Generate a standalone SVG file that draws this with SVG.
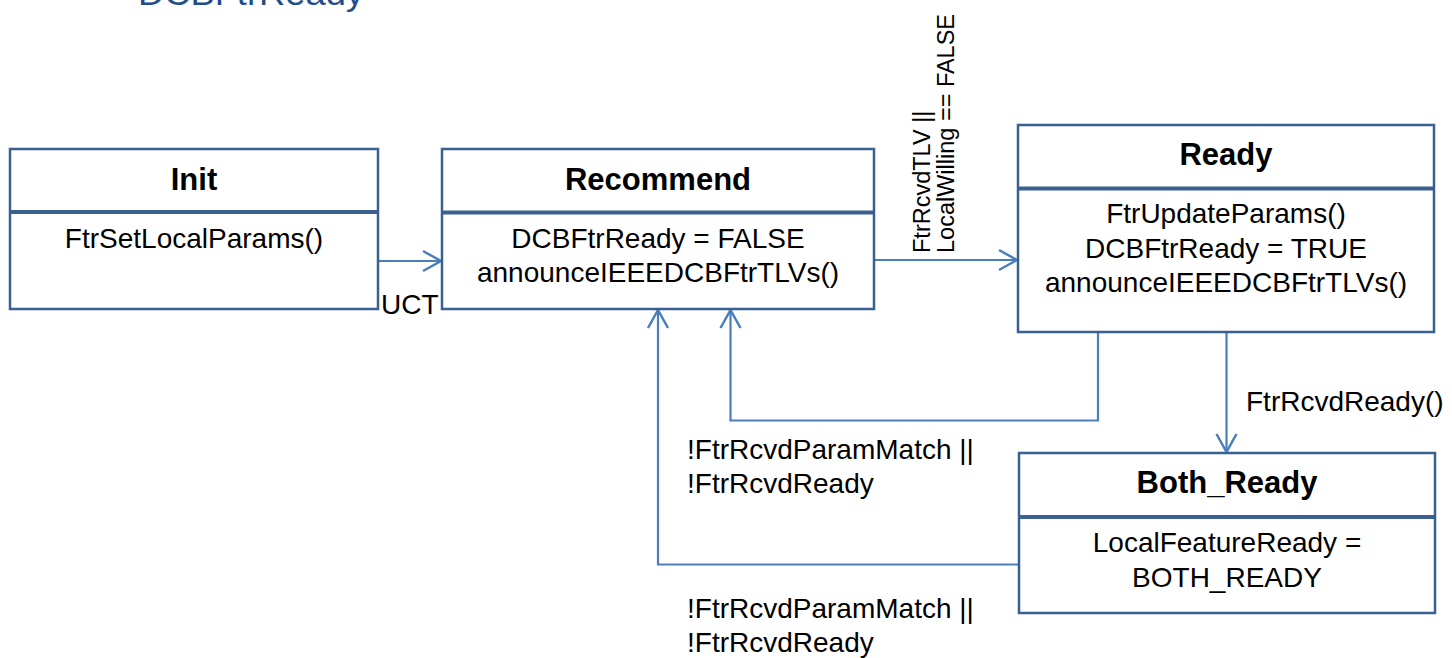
<svg xmlns="http://www.w3.org/2000/svg" width="1452" height="658" viewBox="0 0 1452 658">
<style>
  .box { fill: #ffffff; stroke: #3A5F91; stroke-width: 2.5; }
  .div { stroke: #3A5F91; stroke-width: 4; }
  .hdr { font-family: "Liberation Sans", Arial, sans-serif; font-weight: bold; font-size: 31px; fill: #000; text-anchor: middle; }
  .body { font-family: "Liberation Sans", Arial, sans-serif; font-size: 28px; fill: #000; text-anchor: middle; }
  .lbl { font-family: "Liberation Sans", Arial, sans-serif; font-size: 28px; fill: #000; }
  .rot { font-family: "Liberation Sans", Arial, sans-serif; font-size: 23.5px; fill: #000; }
  .conn { fill: none; stroke: #4A7EBB; stroke-width: 2.2; marker-end: url(#arr); }
  .title { font-family: "Liberation Sans", Arial, sans-serif; font-size: 34px; fill: #1F4E8C; }
</style>
<defs>
  <marker id="arr" markerUnits="userSpaceOnUse" viewBox="-22 -13 26 26" markerWidth="26" markerHeight="26" refX="0" refY="0" orient="auto">
    <path d="M-18,-10 L0,0 L-18,10" fill="none" stroke="#4A7EBB" stroke-width="2.5"/>
  </marker>
</defs>
<rect width="1452" height="658" fill="#ffffff"/>
<text class="title" x="138" y="5" textLength="226" lengthAdjust="spacingAndGlyphs">DCBFtrReady</text>

<g id="connectors">
  <path class="conn" d="M378,261 H441"/>
  <path class="conn" d="M874,260 H1017"/>
  <path class="conn" d="M1098,332 V420.5 H730.5 V310"/>
  <path class="conn" d="M1226.5,332 V452"/>
  <path class="conn" d="M1019,564.5 H658 V310"/>
  <text class="lbl" x="381" y="314">UCT</text>
  <text class="rot" transform="translate(930,253) rotate(-90)">FtrRcvdTLV ||</text>
  <text class="rot" transform="translate(954,253) rotate(-90)">LocalWilling == FALSE</text>
  <text class="lbl" x="687" y="459">!FtrRcvdParamMatch ||</text>
  <text class="lbl" x="687" y="493">!FtrRcvdReady</text>
  <text class="lbl" x="1246" y="411">FtrRcvdReady()</text>
  <text class="lbl" x="687" y="618">!FtrRcvdParamMatch ||</text>
  <text class="lbl" x="687" y="652">!FtrRcvdReady</text>
</g>

<g id="init">
  <rect class="box" x="10" y="149" width="368" height="160"/>
  <line class="div" x1="10" y1="212" x2="378" y2="212"/>
  <text class="hdr" x="194" y="190">Init</text>
  <text class="body" x="194" y="248">FtrSetLocalParams()</text>
</g>

<g id="recommend">
  <rect class="box" x="442" y="149" width="432" height="160"/>
  <line class="div" x1="442" y1="212.5" x2="874" y2="212.5"/>
  <text class="hdr" x="658" y="190">Recommend</text>
  <text class="body" x="658" y="248">DCBFtrReady = FALSE</text>
  <text class="body" x="658" y="282">announceIEEEDCBFtrTLVs()</text>
</g>

<g id="ready">
  <rect class="box" x="1018" y="125" width="416" height="207"/>
  <line class="div" x1="1018" y1="188.5" x2="1434" y2="188.5"/>
  <text class="hdr" x="1226" y="165">Ready</text>
  <text class="body" x="1226" y="223">FtrUpdateParams()</text>
  <text class="body" x="1226" y="257.5">DCBFtrReady = TRUE</text>
  <text class="body" x="1226" y="291.5">announceIEEEDCBFtrTLVs()</text>
</g>

<g id="both_ready">
  <rect class="box" x="1019" y="453" width="416" height="160"/>
  <line class="div" x1="1019" y1="517" x2="1435" y2="517"/>
  <text class="hdr" x="1227" y="493">Both_Ready</text>
  <text class="body" x="1227" y="551.5">LocalFeatureReady =</text>
  <text class="body" x="1227" y="586.5">BOTH_READY</text>
</g>
</svg>
